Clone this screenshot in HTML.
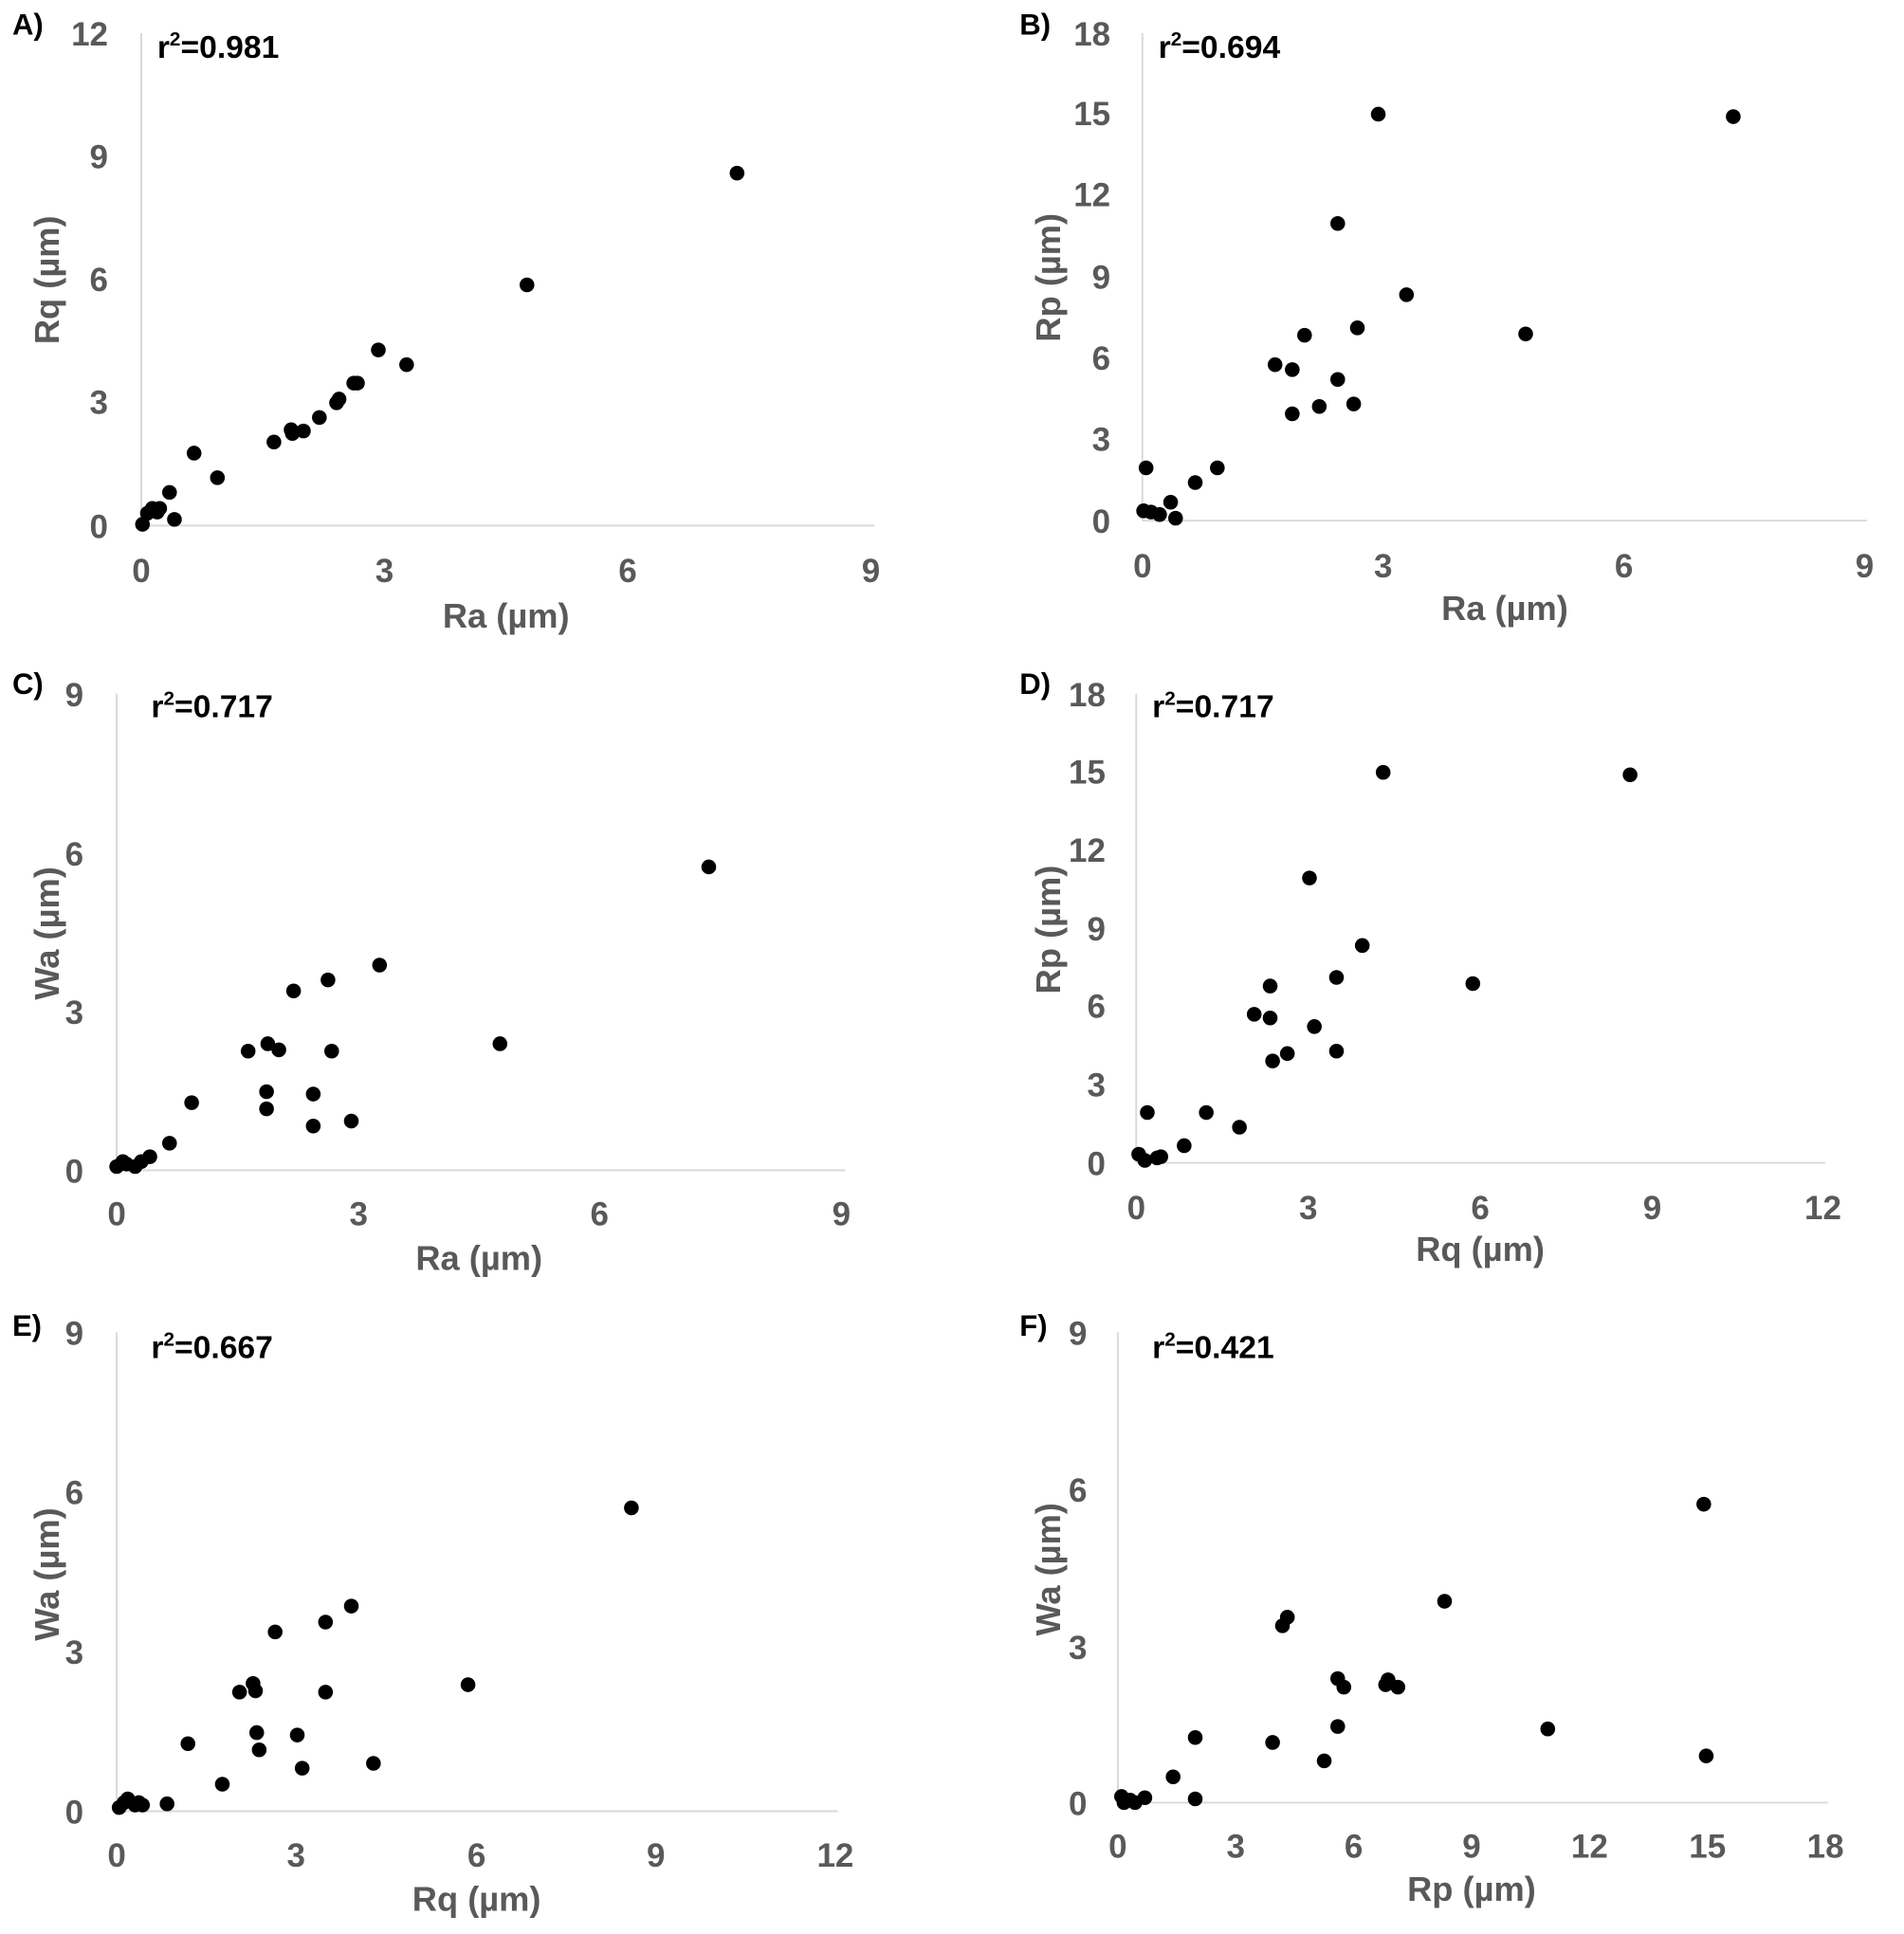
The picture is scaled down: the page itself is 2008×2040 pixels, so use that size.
<!DOCTYPE html>
<html><head><meta charset="utf-8"><style>
html,body{margin:0;padding:0;background:#fff;}
svg{display:block;}
text{font-family:"Liberation Sans Narrow","Liberation Sans",sans-serif;font-weight:bold;}
.t{fill:#595959;font-size:27px;}
.tl{fill:#595959;font-size:28px;}
.r{fill:#000;font-size:26px;}
.p{fill:#000;font-size:24px;}
.ax{stroke:#d9d9d9;stroke-width:1.5;fill:none;}
circle{fill:#000;}
</style></head><body>
<svg width="2008" height="2040" viewBox="0 0 1550 1575" preserveAspectRatio="none">
<!-- A -->
<text class="p" x="10" y="28">A)</text>
<line class="ax" x1="115" y1="27" x2="115" y2="428"/><line class="ax" x1="115" y1="428" x2="712" y2="428"/>
<g class="t" text-anchor="end"><text x="88" y="37">12</text><text x="88" y="137">9</text><text x="88" y="237">6</text><text x="88" y="337">3</text><text x="88" y="438">0</text></g>
<g class="t" text-anchor="middle"><text x="115" y="474">0</text><text x="313" y="474">3</text><text x="511" y="474">6</text><text x="709" y="474">9</text></g>
<text class="tl" x="412" y="511" text-anchor="middle">Ra (µm)</text>
<text class="tl" transform="translate(48,228) rotate(-90)" text-anchor="middle">Rq (µm)</text>
<text class="r" x="128" y="47">r<tspan font-size="16" dy="-10">2</tspan><tspan dy="10">=0.981</tspan></text>
<g><circle cx="116" cy="427" r="6"/><circle cx="120" cy="418" r="6"/><circle cx="124" cy="414" r="6"/><circle cx="130" cy="414" r="6"/><circle cx="128" cy="417" r="6"/><circle cx="138" cy="401" r="6"/><circle cx="142" cy="423" r="6"/><circle cx="158" cy="369" r="6"/><circle cx="177" cy="389" r="6"/><circle cx="223" cy="360" r="6"/><circle cx="237" cy="350" r="6"/><circle cx="238" cy="353" r="6"/><circle cx="247" cy="351" r="6"/><circle cx="260" cy="340" r="6"/><circle cx="274" cy="328" r="6"/><circle cx="276" cy="325" r="6"/><circle cx="288" cy="312" r="6"/><circle cx="291" cy="312" r="6"/><circle cx="308" cy="285" r="6"/><circle cx="331" cy="297" r="6"/><circle cx="429" cy="232" r="6"/><circle cx="600" cy="141" r="6"/></g>
<!-- B -->
<text class="p" x="830" y="28">B)</text>
<line class="ax" x1="930" y1="27" x2="930" y2="424"/><line class="ax" x1="930" y1="424" x2="1520" y2="424"/>
<g class="t" text-anchor="end"><text x="904" y="37">18</text><text x="904" y="102">15</text><text x="904" y="168">12</text><text x="904" y="235">9</text><text x="904" y="301">6</text><text x="904" y="367">3</text><text x="904" y="434">0</text></g>
<g class="t" text-anchor="middle"><text x="930" y="470">0</text><text x="1126" y="470">3</text><text x="1322" y="470">6</text><text x="1518" y="470">9</text></g>
<text class="tl" x="1225" y="505" text-anchor="middle">Ra (µm)</text>
<text class="tl" transform="translate(863,226) rotate(-90)" text-anchor="middle">Rp (µm)</text>
<text class="r" x="943" y="47">r<tspan font-size="16" dy="-10">2</tspan><tspan dy="10">=0.694</tspan></text>
<g><circle cx="931" cy="416" r="6"/><circle cx="937" cy="417" r="6"/><circle cx="944" cy="419" r="6"/><circle cx="953" cy="409" r="6"/><circle cx="957" cy="422" r="6"/><circle cx="933" cy="381" r="6"/><circle cx="973" cy="393" r="6"/><circle cx="991" cy="381" r="6"/><circle cx="1038" cy="297" r="6"/><circle cx="1052" cy="301" r="6"/><circle cx="1052" cy="337" r="6"/><circle cx="1062" cy="273" r="6"/><circle cx="1074" cy="331" r="6"/><circle cx="1089" cy="309" r="6"/><circle cx="1089" cy="182" r="6"/><circle cx="1102" cy="329" r="6"/><circle cx="1105" cy="267" r="6"/><circle cx="1122" cy="93" r="6"/><circle cx="1145" cy="240" r="6"/><circle cx="1242" cy="272" r="6"/><circle cx="1411" cy="95" r="6"/></g>
<!-- C -->
<text class="p" x="10" y="565">C)</text>
<line class="ax" x1="95" y1="565" x2="95" y2="953"/><line class="ax" x1="95" y1="953" x2="688" y2="953"/>
<g class="t" text-anchor="end"><text x="68" y="575">9</text><text x="68" y="705">6</text><text x="68" y="834">3</text><text x="68" y="963">0</text></g>
<g class="t" text-anchor="middle"><text x="95" y="998">0</text><text x="292" y="998">3</text><text x="488" y="998">6</text><text x="685" y="998">9</text></g>
<text class="tl" x="390" y="1034" text-anchor="middle">Ra (µm)</text>
<text class="tl" transform="translate(48,760) rotate(-90)" text-anchor="middle">Wa (µm)</text>
<text class="r" x="123" y="584">r<tspan font-size="16" dy="-10">2</tspan><tspan dy="10">=0.717</tspan></text>
<g><circle cx="95" cy="950" r="6"/><circle cx="100" cy="946" r="6"/><circle cx="103" cy="948" r="6"/><circle cx="110" cy="950" r="6"/><circle cx="115" cy="946" r="6"/><circle cx="122" cy="942" r="6"/><circle cx="138" cy="931" r="6"/><circle cx="156" cy="898" r="6"/><circle cx="202" cy="856" r="6"/><circle cx="217" cy="889" r="6"/><circle cx="218" cy="850" r="6"/><circle cx="217" cy="903" r="6"/><circle cx="227" cy="855" r="6"/><circle cx="239" cy="807" r="6"/><circle cx="255" cy="891" r="6"/><circle cx="255" cy="917" r="6"/><circle cx="267" cy="798" r="6"/><circle cx="270" cy="856" r="6"/><circle cx="286" cy="913" r="6"/><circle cx="309" cy="786" r="6"/><circle cx="407" cy="850" r="6"/><circle cx="577" cy="706" r="6"/></g>
<!-- D -->
<text class="p" x="830" y="565">D)</text>
<line class="ax" x1="925" y1="565" x2="925" y2="947"/><line class="ax" x1="925" y1="947" x2="1486" y2="947"/>
<g class="t" text-anchor="end"><text x="900" y="575">18</text><text x="900" y="638">15</text><text x="900" y="702">12</text><text x="900" y="766">9</text><text x="900" y="829">6</text><text x="900" y="893">3</text><text x="900" y="957">0</text></g>
<g class="t" text-anchor="middle"><text x="925" y="993">0</text><text x="1065" y="993">3</text><text x="1205" y="993">6</text><text x="1345" y="993">9</text><text x="1484" y="993">12</text></g>
<text class="tl" x="1205" y="1027" text-anchor="middle">Rq (µm)</text>
<text class="tl" transform="translate(863,757) rotate(-90)" text-anchor="middle">Rp (µm)</text>
<text class="r" x="938" y="584">r<tspan font-size="16" dy="-10">2</tspan><tspan dy="10">=0.717</tspan></text>
<g><circle cx="927" cy="940" r="6"/><circle cx="932" cy="945" r="6"/><circle cx="934" cy="906" r="6"/><circle cx="942" cy="943" r="6"/><circle cx="945" cy="942" r="6"/><circle cx="964" cy="933" r="6"/><circle cx="982" cy="906" r="6"/><circle cx="1009" cy="918" r="6"/><circle cx="1021" cy="826" r="6"/><circle cx="1034" cy="803" r="6"/><circle cx="1034" cy="829" r="6"/><circle cx="1036" cy="864" r="6"/><circle cx="1048" cy="858" r="6"/><circle cx="1066" cy="715" r="6"/><circle cx="1070" cy="836" r="6"/><circle cx="1088" cy="796" r="6"/><circle cx="1088" cy="856" r="6"/><circle cx="1109" cy="770" r="6"/><circle cx="1126" cy="629" r="6"/><circle cx="1199" cy="801" r="6"/><circle cx="1327" cy="631" r="6"/></g>
<!-- E -->
<text class="p" x="10" y="1088">E)</text>
<line class="ax" x1="95" y1="1085" x2="95" y2="1475"/><line class="ax" x1="95" y1="1475" x2="682" y2="1475"/>
<g class="t" text-anchor="end"><text x="68" y="1095">9</text><text x="68" y="1225">6</text><text x="68" y="1355">3</text><text x="68" y="1485">0</text></g>
<g class="t" text-anchor="middle"><text x="95" y="1520">0</text><text x="241" y="1520">3</text><text x="388" y="1520">6</text><text x="534" y="1520">9</text><text x="680" y="1520">12</text></g>
<text class="tl" x="388" y="1556" text-anchor="middle">Rq (µm)</text>
<text class="tl" transform="translate(48,1282) rotate(-90)" text-anchor="middle">Wa (µm)</text>
<text class="r" x="123" y="1106">r<tspan font-size="16" dy="-10">2</tspan><tspan dy="10">=0.667</tspan></text>
<g><circle cx="97" cy="1472" r="6"/><circle cx="101" cy="1468" r="6"/><circle cx="104" cy="1465" r="6"/><circle cx="110" cy="1470" r="6"/><circle cx="113" cy="1468" r="6"/><circle cx="116" cy="1470" r="6"/><circle cx="136" cy="1469" r="6"/><circle cx="153" cy="1420" r="6"/><circle cx="181" cy="1453" r="6"/><circle cx="195" cy="1378" r="6"/><circle cx="206" cy="1371" r="6"/><circle cx="208" cy="1377" r="6"/><circle cx="209" cy="1411" r="6"/><circle cx="211" cy="1425" r="6"/><circle cx="224" cy="1329" r="6"/><circle cx="242" cy="1413" r="6"/><circle cx="246" cy="1440" r="6"/><circle cx="265" cy="1321" r="6"/><circle cx="265" cy="1378" r="6"/><circle cx="286" cy="1308" r="6"/><circle cx="304" cy="1436" r="6"/><circle cx="381" cy="1372" r="6"/><circle cx="514" cy="1228" r="6"/></g>
<!-- F -->
<text class="p" x="830" y="1088">F)</text>
<line class="ax" x1="910" y1="1085" x2="910" y2="1468"/><line class="ax" x1="910" y1="1468" x2="1488" y2="1468"/>
<g class="t" text-anchor="end"><text x="885" y="1095">9</text><text x="885" y="1223">6</text><text x="885" y="1351">3</text><text x="885" y="1478">0</text></g>
<g class="t" text-anchor="middle"><text x="910" y="1513">0</text><text x="1006" y="1513">3</text><text x="1102" y="1513">6</text><text x="1198" y="1513">9</text><text x="1294" y="1513">12</text><text x="1390" y="1513">15</text><text x="1486" y="1513">18</text></g>
<text class="tl" x="1198" y="1548" text-anchor="middle">Rp (µm)</text>
<text class="tl" transform="translate(863,1278) rotate(-90)" text-anchor="middle">Wa (µm)</text>
<text class="r" x="938" y="1106">r<tspan font-size="16" dy="-10">2</tspan><tspan dy="10">=0.421</tspan></text>
<g><circle cx="913" cy="1463" r="6"/><circle cx="915" cy="1468" r="6"/><circle cx="920" cy="1466" r="6"/><circle cx="924" cy="1468" r="6"/><circle cx="932" cy="1464" r="6"/><circle cx="955" cy="1447" r="6"/><circle cx="973" cy="1415" r="6"/><circle cx="973" cy="1465" r="6"/><circle cx="1036" cy="1419" r="6"/><circle cx="1044" cy="1324" r="6"/><circle cx="1048" cy="1317" r="6"/><circle cx="1078" cy="1434" r="6"/><circle cx="1089" cy="1367" r="6"/><circle cx="1089" cy="1406" r="6"/><circle cx="1094" cy="1374" r="6"/><circle cx="1128" cy="1372" r="6"/><circle cx="1130" cy="1368" r="6"/><circle cx="1138" cy="1374" r="6"/><circle cx="1176" cy="1304" r="6"/><circle cx="1260" cy="1408" r="6"/><circle cx="1387" cy="1225" r="6"/><circle cx="1389" cy="1430" r="6"/></g>
</svg>
</body></html>
